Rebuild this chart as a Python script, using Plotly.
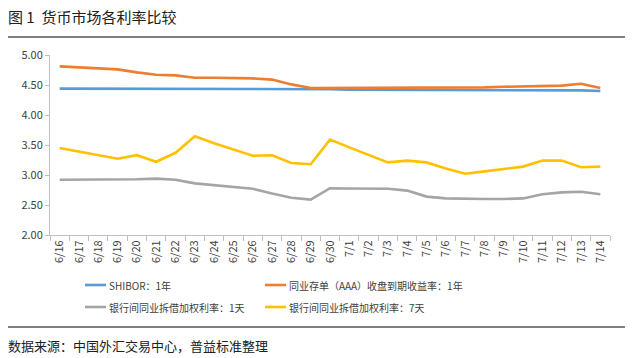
import plotly.graph_objects as go

dates = ["6/16","6/17","6/18","6/19","6/20","6/21","6/22","6/23","6/24","6/25","6/26","6/27","6/28","6/29","6/30",
         "7/1","7/2","7/3","7/4","7/5","7/6","7/7","7/8","7/9","7/10","7/11","7/12","7/13","7/14"]

shibor_1y = [4.44,4.44,4.44,4.44,4.44,4.44,4.44,4.44,4.44,4.44,4.44,4.44,4.44,4.43,4.43,
             4.42,4.42,4.42,4.41,4.41,4.41,4.41,4.41,4.41,4.41,4.41,4.41,4.41,4.40]
ncd_aaa_1y = [4.81,4.79,4.78,4.76,4.71,4.67,4.66,4.62,4.62,4.62,4.61,4.59,4.51,4.45,4.45,
              4.45,4.45,4.45,4.45,4.45,4.45,4.45,4.46,4.47,4.48,4.49,4.49,4.52,4.45]
ib_1d = [2.92,2.92,2.92,2.92,2.93,2.94,2.92,2.86,2.83,2.80,2.77,2.69,2.62,2.59,2.78,
         2.775,2.77,2.77,2.74,2.64,2.61,2.60,2.60,2.60,2.61,2.68,2.71,2.72,2.68]
ib_7d = [3.45,3.39,3.33,3.27,3.33,3.22,3.37,3.645,3.53,3.43,3.32,3.33,3.20,3.18,3.59,
         3.46,3.33,3.21,3.24,3.21,3.11,3.02,3.06,3.10,3.14,3.24,3.24,3.13,3.14]

names = ["SHIBOR：1年", "同业存单（AAA）收盘到期收益率：1年",
         "银行间同业拆借加权利率：1天", "银行间同业拆借加权利率：7天"]
colors = ["#5B9BD5", "#ED7D31", "#A5A5A5", "#FFC000"]
series = [shibor_1y, ncd_aaa_1y, ib_1d, ib_7d]

FONT = "Noto Sans CJK SC"
fig = go.Figure()
for n, c, s in zip(names, colors, series):
    fig.add_trace(go.Scatter(x=dates, y=s, name=n, mode="lines",
                             line=dict(color=c, width=2.6), showlegend=False))

W, H = 633, 358
L, R, T, B = 50, 23, 55, 123
pw, ph = W - L - R, H - T - B

def px_x(x):
    return (x - L) / pw

def px_y(y):
    return (H - B - y) / ph

fig.update_layout(
    width=W, height=H,
    margin=dict(l=L, r=R, t=T, b=B, autoexpand=False),
    plot_bgcolor="white", paper_bgcolor="white",
    font=dict(family=FONT, color="#404040"),
    showlegend=False,
    xaxis=dict(type="category", tickson="boundaries", ticks="outside", ticklen=5,
               tickcolor="#BFBFBF", showline=True, linecolor="#BFBFBF", linewidth=1,
               showgrid=False, tickangle=-90, tickfont=dict(size=11, color="#404040", family=FONT),
               range=[-0.5, len(dates) - 0.5]),
    yaxis=dict(range=[2, 5], dtick=0.5, tickformat=".2f", ticks="outside", ticklen=4,
               tickcolor="#BFBFBF", showline=True, linecolor="#BFBFBF", linewidth=1,
               showgrid=False, zeroline=False, tickfont=dict(size=11, color="#404040", family=FONT)),
    title=dict(text="图 1  货币市场各利率比较", x=8 / W, xanchor="left", y=1 - 18 / H,
               yanchor="middle", font=dict(size=15, family=FONT, color="#202020")),
)

# legend (2 x 2), drawn as short line samples + labels
leg_pos = [(85, 285), (265, 285), (85, 307), (265, 307)]
for (lx, ly), n, c in zip(leg_pos, names, colors):
    fig.add_shape(type="line", xref="paper", yref="paper", x0=px_x(lx), x1=px_x(lx + 21),
                  y0=px_y(ly), y1=px_y(ly), line=dict(color=c, width=2.6))
    fig.add_annotation(text=n, xref="paper", yref="paper", x=px_x(lx + 22), y=px_y(ly),
                       xanchor="left", yanchor="middle", showarrow=False,
                       font=dict(size=10, family=FONT, color="#404040"))

fig.add_shape(type="line", xref="paper", yref="paper", x0=px_x(8), x1=px_x(625),
              y0=px_y(37), y1=px_y(37), line=dict(color="black", width=1.2))
fig.add_shape(type="line", xref="paper", yref="paper", x0=px_x(8), x1=px_x(625),
              y0=px_y(327), y1=px_y(327), line=dict(color="black", width=1.2))
fig.add_annotation(text="数据来源：中国外汇交易中心，普益标准整理", xref="paper", yref="paper",
                   x=px_x(6), y=px_y(345), xanchor="left", yanchor="middle", showarrow=False,
                   font=dict(size=13, family=FONT, color="#202020"))

fig.write_html("out.html", config={"displayModeBar": False},
               post_script="document.body.style.margin='0';")
